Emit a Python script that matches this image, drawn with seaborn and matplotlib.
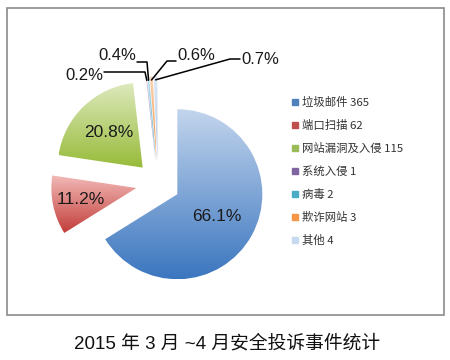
import numpy as np
import matplotlib
matplotlib.use("Agg")
import matplotlib.pyplot as plt
import seaborn as sns
from matplotlib.colors import LinearSegmentedColormap
from matplotlib.patches import Rectangle
from matplotlib.lines import Line2D

sns.set_theme(style="white")
plt.rcParams['font.family'] = ['Liberation Sans', 'Noto Sans CJK SC', 'DejaVu Sans']

# ---- data ----
categories = ["垃圾邮件", "端口扫描", "网站漏洞及入侵", "系统入侵", "病毒", "欺诈网站", "其他"]
counts = [365, 62, 115, 1, 2, 3, 4]
pct_labels = ["66.1%", "11.2%", "20.8%", "0.2%", "0.4%", "0.6%", "0.7%"]
title = "2015 年 3 月 ~4 月安全投诉事件统计"

base_colors = ["#4f81bd", "#c0504d", "#9bbb59", "#8064a2", "#4bacc6", "#f79646", "#c6d9f1"]
grad_top = ["#c3d5ed", "#f2bab8", "#dde9bd", "#d6cbe4", "#c2e6f1", "#fdd5b3", "#e0eaf6"]
grad_bot = ["#3b76bf", "#c23d39", "#97bb39", "#7b5d9f", "#42a5c2", "#ef8833", "#afc5e2"]

W, H = 450, 360
R = 85.0
cx, cy = 158.0, 183.5  # pie centre in px (from top-left)

fig = plt.figure(figsize=(4.5, 3.6), dpi=100)
ax = fig.add_axes([0, 0, 1, 1])

def set_lims():
    ax.set_xlim(-cx / R, (W - cx) / R)
    ax.set_ylim(-(H - cy) / R, cy / R)
    ax.set_aspect('equal')
    ax.axis('off')

def px(x, y):
    return ((x - cx) / R, (cy - y) / R)

explode = [0.26] * len(counts)
wedges, _ = ax.pie(counts, startangle=90, counterclock=False, explode=explode,
                   colors=base_colors, radius=1.0, center=(0, 0), frame=False)
set_lims()

for i, w in enumerate(wedges):
    c = w.center
    th = np.radians(np.linspace(w.theta1, w.theta2, 200))
    xs = np.concatenate([[c[0]], c[0] + w.r * np.cos(th)])
    ys = np.concatenate([[c[1]], c[1] + w.r * np.sin(th)])
    cmap = LinearSegmentedColormap.from_list("g%d" % i, [grad_bot[i], grad_top[i]])
    grad = np.linspace(0, 1, 256).reshape(-1, 1)
    im = ax.imshow(grad, cmap=cmap, origin='lower', aspect='auto',
                   extent=[xs.min(), xs.max(), ys.min(), ys.max()], zorder=2)
    im.set_clip_path(w)
    w.set_facecolor('none')
    w.set_edgecolor('none')
set_lims()

# big slice labels
dists = [0.53, 0.67, 0.58]
for i in range(3):
    w = wedges[i]
    mid = np.radians((w.theta1 + w.theta2) / 2)
    x = w.center[0] + dists[i] * np.cos(mid)
    y = w.center[1] + dists[i] * np.sin(mid)
    ax.text(x, y, pct_labels[i], ha='center', va='center', fontsize=12.5, color='#1a1a1a', zorder=5)

# small slice labels with leader lines
small_layout = {
    3: dict(text=(103, 75), ha='right', elbow=[(104, 72), (145, 72)]),
    4: dict(text=(136, 55), ha='right', elbow=[(137, 62), (147, 62)]),
    5: dict(text=(177, 55), ha='left', elbow=[(176, 61), (167, 61)]),
    6: dict(text=(241, 59), ha='left', elbow=[(240, 59), (230, 59)]),
}
for i, lay in small_layout.items():
    w = wedges[i]
    mid = np.radians((w.theta1 + w.theta2) / 2)
    wx = w.center[0] + 0.96 * np.cos(mid)
    wy = w.center[1] + 0.96 * np.sin(mid)
    pts = [px(*p) for p in lay['elbow']] + [(wx, wy)]
    ax.plot([p[0] for p in pts], [p[1] for p in pts], color='black', lw=1.1, zorder=6)
    tx, ty = px(*lay['text'])
    ax.text(tx, ty, pct_labels[i], ha=lay['ha'], va='center', fontsize=12, color='#1a1a1a', zorder=6)

# frame
fig.patches.append(Rectangle((7 / W, 1 - 315 / H), (444 - 7) / W, (315 - 8) / H,
                             transform=fig.transFigure, fill=False, edgecolor='#8a8a8a', lw=1.2))

# legend
handles = [Line2D([0], [0], marker='s', linestyle='none', markersize=5,
                  markerfacecolor=c, markeredgecolor=c) for c in base_colors]
labels = [f"{c} {v}" for c, v in zip(categories, counts)]
leg = fig.legend(handles, labels, loc='upper left', bbox_to_anchor=(292 / W, 1 - 97 / H),
                 frameon=False, fontsize=8.2, handlelength=0.6, handletextpad=0.3,
                 labelspacing=1.05, borderaxespad=0, borderpad=0)
for t in leg.get_texts():
    t.set_color('#333333')
    t.set_fontfamily(['Noto Sans CJK SC', 'DejaVu Sans'])

fig.text(227 / W, 1 - 344 / H, title, ha='center', va='center', fontsize=13.5,
         color='#111111', family=['Liberation Sans', 'Noto Sans CJK SC'])

fig.savefig('out.png', dpi=100)
